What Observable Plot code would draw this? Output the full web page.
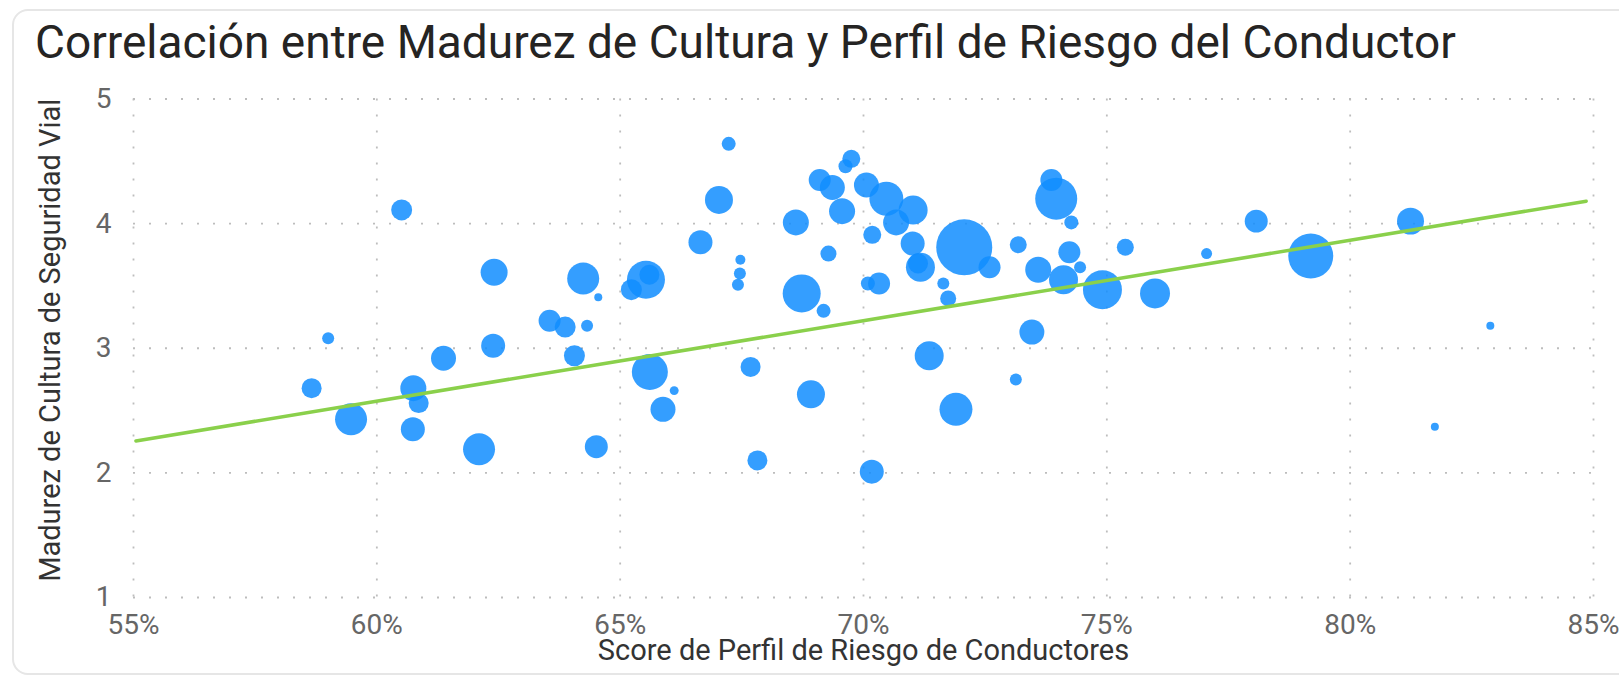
<!DOCTYPE html>
<html><head><meta charset="utf-8">
<script src="https://cdn.jsdelivr.net/npm/d3@7"></script>
<script src="https://cdn.jsdelivr.net/npm/@observablehq/plot@0.6"></script>
<style>
html,body{margin:0;background:#fff}
body{width:1619px;height:678px;overflow:hidden;position:relative;font-family:Roboto,sans-serif}
#card{position:absolute;left:12px;top:9px;width:1800px;height:666px;border:2px solid #e6e6e6;border-radius:16px;box-sizing:border-box}
#title{position:absolute;left:35px;top:19px;font-size:46px;line-height:1;color:#252423;white-space:nowrap}
#chart{position:absolute;left:0;top:80px}
</style></head><body>
<div id="card"></div>
<div id="title">Correlación entre Madurez de Cultura y Perfil de Riesgo del Conductor</div>
<div id="chart"></div>
<script>
const titulo = "Correlación entre Madurez de Cultura y Perfil de Riesgo del Conductor";
const tituloX = "Score de Perfil de Riesgo de Conductores";
const tituloY = "Madurez de Cultura de Seguridad Vial";

// Score de Perfil de Riesgo (%)
const riesgo = [58.66,59.0,59.47,60.51,60.75,60.86,60.74,61.37,62.10,62.39,62.41,63.55,63.87,64.32,64.06,64.24,64.55,64.51,65.23,65.53,65.6,65.61,65.88,66.11,66.65,67.03,67.23,67.47,67.46,67.42,67.68,67.82,68.61,68.73,68.92,69.18,69.28,69.1,69.36,69.56,69.63,69.75,70.06,70.18,70.09,70.32,70.17,70.47,70.67,71.02,71.01,71.17,71.12,71.35,71.64,71.74,71.9,72.07,72.59,73.18,73.13,73.46,73.59,73.86,73.96,74.27,74.23,74.11,74.45,74.91,75.38,75.99,77.05,78.07,79.19,81.24,81.74,82.88];
// Madurez de Cultura de Seguridad Vial
const madurez = [2.68,3.08,2.43,4.11,2.68,2.56,2.35,2.92,2.19,3.02,3.61,3.22,3.17,3.18,2.94,3.56,3.41,2.21,3.47,3.55,3.59,2.81,2.51,2.66,3.85,4.19,4.64,3.71,3.60,3.51,2.85,2.10,4.01,3.44,2.63,3.30,3.76,4.35,4.29,4.10,4.46,4.52,4.31,3.91,3.52,3.52,2.01,4.20,4.01,4.11,3.84,3.65,3.68,2.94,3.52,3.40,2.51,3.81,3.65,3.83,2.75,3.13,3.63,4.35,4.20,4.01,3.77,3.55,3.65,3.47,3.81,3.44,3.76,4.02,3.74,4.02,2.37,3.18];
// Bubble size (relative)
const tamano = [100,36,256,110,169,100,144,156,256,144,182,121,110,36,110,256,16,132,110,361,100,324,156,20,144,196,49,25,36,36,100,100,169,361,196,49,64,121,156,169,49,81,156,81,49,121,144,289,169,210,144,210,100,210,36,64,272,784,121,72,36,156,169,121,441,49,121,210,36,380,72,225,30,132,506,182,16,16];

// Trend line endpoints
const tendenciaX = [55.05, 84.85];
const tendenciaY = [2.256, 4.18];

const ticksX = [55, 60, 65, 70, 75, 80, 85];
const ticksY = [1, 2, 3, 4, 5];

const puntos = riesgo.map((x, i) => ({x, y: madurez[i], s: tamano[i]}));
const tendencia = tendenciaX.map((x, i) => ({x, y: tendenciaY[i]}));

const grid = {stroke: "#bdbdbd", strokeOpacity: 1, strokeWidth: 1.8, strokeDasharray: "2,14"};

const chart = Plot.plot({
  width: 1619,
  height: 598,
  marginLeft: 133,
  marginRight: 26,
  marginTop: 18.5,
  marginBottom: 81,
  style: {fontFamily: "Roboto, sans-serif", fontSize: "28px", color: "#666", background: "transparent", overflow: "visible"},
  x: {domain: [55, 85]},
  y: {domain: [1, 5]},
  r: {type: "sqrt", domain: [0, 784], range: [0, 28]},
  marks: [
    Plot.gridX(ticksX, grid),
    Plot.gridY(ticksY, grid),
    Plot.axisX(ticksX, {tickSize: 0, tickPadding: 17, tickFormat: d => d + "%", label: null, fill: "#666", fontSize: 28}),
    Plot.axisY(ticksY, {tickSize: 0, tickPadding: 22, tickFormat: d => String(d), label: null, fill: "#666", fontSize: 28}),
    Plot.dot(puntos, {x: "x", y: "y", r: "s", fill: "#118DFF", fillOpacity: 0.85, stroke: null}),
    Plot.line(tendencia, {x: "x", y: "y", stroke: "#8AD04B", strokeWidth: 3.5}),
    Plot.text([tituloX], {frameAnchor: "bottom", textAnchor: "middle", dy: 62, fill: "#333", fontSize: 29, text: d => d}),
    Plot.text([tituloY], {frameAnchor: "left", textAnchor: "middle", lineAnchor: "middle", dx: -83, dy: -8, rotate: -90, fill: "#333", fontSize: 29, text: d => d})
  ]
});
document.getElementById("chart").append(chart);
</script>
</body></html>
